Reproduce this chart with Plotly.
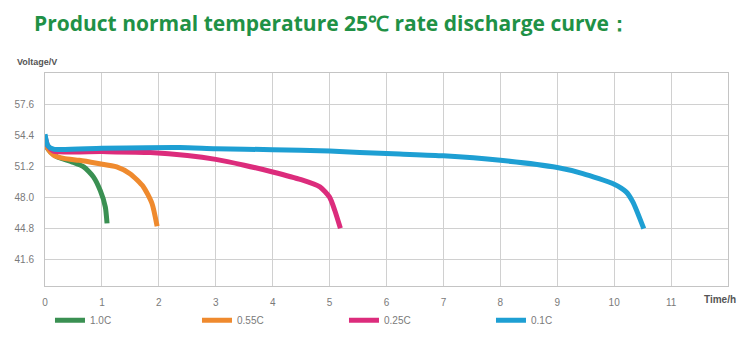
import plotly.graph_objects as go

# ---- data ----
t_10c = [0, 0.03, 0.09, 0.21, 0.47, 0.68, 0.85, 0.97, 1.06, 1.09]
v_10c = [54.1, 53.2, 52.7, 52.16, 51.64, 51.13, 50.1, 48.7, 47.0, 45.3]

t_055c = [0, 0.05, 0.15, 0.33, 0.6, 0.91, 1.26, 1.5, 1.73, 1.88, 1.97]
v_055c = [54.2, 53.0, 52.34, 52.0, 51.8, 51.5, 51.13, 50.4, 49.06, 47.35, 45.0]

t_025c = [0, 0.05, 0.15, 1.0, 1.85, 2.5, 3.0, 3.5, 4.0, 4.5, 4.83, 5.0, 5.09, 5.19]
v_025c = [54.3, 53.3, 52.75, 52.7, 52.6, 52.3, 51.9, 51.3, 50.6, 49.8, 49.06, 48.0, 46.66, 44.8]

t_01c = [0, 0.05, 0.15, 1.0, 2.37, 3.0, 4.0, 5.0, 5.53, 6.23, 7.0, 8.0, 9.0, 9.45, 10.0, 10.21, 10.33, 10.52]
v_01c = [54.5, 53.3, 52.95, 53.05, 53.13, 53.0, 52.9, 52.75, 52.6, 52.44, 52.26, 51.8, 51.06, 50.44, 49.34, 48.55, 47.5, 44.77]

series_names = ["1.0C", "0.55C", "0.25C", "0.1C"]
series_colors = ["#3a9052", "#ef8a2e", "#dc2c7c", "#1e9fd3"]

x_ticks = list(range(0, 12))
y_ticks = [41.6, 44.8, 48.0, 51.2, 54.4, 57.6]

title_text = "Product normal temperature 25℃ rate discharge curve："

fig = go.Figure()
for name, color, tx, vy in zip(series_names, series_colors,
                               [t_10c, t_055c, t_025c, t_01c],
                               [v_10c, v_055c, v_025c, v_01c]):
    fig.add_trace(go.Scatter(x=tx, y=vy, mode="lines", name=name,
                             line=dict(color=color, width=5, shape="spline", smoothing=0.6)))

axis_common = dict(showgrid=True, gridcolor="#d0d0d0", gridwidth=1,
                   showline=True, linecolor="#c4c4c4", linewidth=1, mirror=True,
                   zeroline=False, ticks="", automargin=False,
                   tickfont=dict(family="Liberation Sans, Arial", size=10, color="#7a7a7a"))

fig.update_xaxes(range=[0, 12], tickvals=list(range(0, 13)),
                 ticktext=[str(v) for v in x_ticks] + [""],
                 ticklabelstandoff=7, **axis_common)
fig.update_yaxes(range=[38.85, 60.8], tickvals=y_ticks,
                 ticktext=[f"{v:.1f}" for v in y_ticks],
                 ticklabelstandoff=8, **axis_common)

fig.update_layout(
    width=750, height=355,
    margin=dict(l=37, r=30, t=65, b=77),
    paper_bgcolor="white", plot_bgcolor="white",
    showlegend=True,
    legend=dict(orientation="h", x=0.0073, xanchor="left",
                yref="container", y=0.161, yanchor="top",
                entrywidth=102, entrywidthmode="pixels",
                font=dict(family="Liberation Sans, Arial", size=10, color="#7a7a7a"),
                itemwidth=30, tracegroupgap=0, bgcolor="rgba(0,0,0,0)"),
    annotations=[
        dict(text=title_text, xref="paper", yref="paper",
             x=-0.019, y=1.0, xanchor="left", yanchor="bottom", yshift=34,
             showarrow=False,
             font=dict(family="Open Sans, Liberation Sans", size=21, color="#1f9146", weight="bold")),
        dict(text="<b>Voltage/V</b>", xref="paper", yref="paper",
             x=-0.044, y=1.0, xanchor="left", yanchor="bottom", yshift=4,
             showarrow=False,
             font=dict(family="Liberation Sans, Arial", size=9, color="#555555")),
        dict(text="<b>Time/h</b>", xref="paper", yref="paper",
             x=1.014, y=0.0, xanchor="right", yanchor="top", yshift=-6,
             showarrow=False,
             font=dict(family="Liberation Sans, Arial", size=10, color="#555555")),
    ],
)

fig.write_html("out.html")
